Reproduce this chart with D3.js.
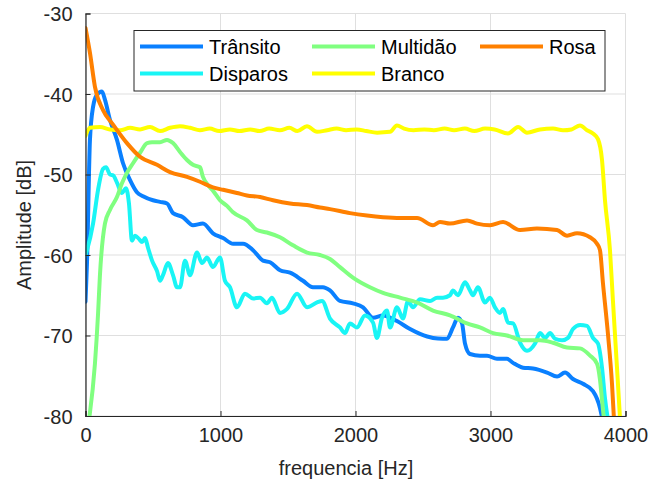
<!DOCTYPE html>
<html>
<head>
<meta charset="utf-8">
<script src="https://cdn.jsdelivr.net/npm/d3@7"></script>
<style>
  html, body { margin: 0; padding: 0; background: #fff; }
  svg { display: block; font-family: "Liberation Sans", Arial, sans-serif; }
</style>
</head>
<body>
<svg id="chart" width="662" height="483"></svg>
<script>
// Axis ticks
const xTicks = [0, 1000, 2000, 3000, 4000];
const yTicks = [-80, -70, -60, -50, -40, -30];

// Series: [frequency Hz, amplitude dB]
const transito = [[0,-65.8],[11,-61.0],[33,-45.7],[56,-41.6],[85,-40.1],[122,-39.7],[144,-40.7],[181,-43.2],[233,-45.7],[278,-48.6],[330,-50.7],[381,-52.2],[426,-52.7],[500,-53.2],[552,-53.4],[604,-53.6],[648,-54.8],[722,-55.3],[796,-56.3],[870,-56.1],[944,-57.3],[1019,-57.9],[1093,-58.6],[1167,-58.6],[1241,-59.4],[1315,-60.7],[1367,-60.9],[1441,-61.9],[1515,-62.2],[1611,-63.2],[1685,-64.0],[1759,-64.0],[1811,-64.4],[1885,-65.7],[1981,-66.0],[2056,-66.5],[2130,-67.8],[2204,-67.5],[2307,-68.2],[2404,-69.2],[2478,-69.8],[2574,-70.3],[2648,-70.4],[2678,-70.4],[2722,-69.0],[2759,-67.8],[2789,-68.5],[2811,-71.0],[2848,-72.3],[2922,-72.5],[2974,-72.5],[3048,-72.9],[3122,-72.9],[3167,-73.4],[3241,-74.0],[3315,-74.1],[3419,-74.6],[3493,-75.1],[3552,-74.6],[3611,-75.4],[3685,-76.0],[3759,-76.9],[3811,-79.0],[3830,-80.5]];

const disparos = [[0,-60.0],[11,-59.4],[56,-56.1],[93,-51.9],[130,-49.3],[152,-49.1],[181,-50.0],[204,-50.1],[233,-51.0],[270,-52.3],[300,-51.7],[322,-53.6],[344,-58.2],[367,-57.6],[396,-58.0],[419,-58.4],[441,-57.9],[463,-59.1],[493,-60.7],[530,-62.0],[552,-63.2],[574,-62.5],[611,-61.0],[648,-62.5],[678,-64.0],[700,-64.0],[737,-60.7],[774,-62.5],[826,-59.7],[863,-61.0],[900,-60.3],[944,-61.5],[996,-60.3],[1033,-63.2],[1070,-64.0],[1122,-66.5],[1181,-64.8],[1241,-65.4],[1293,-65.3],[1344,-66.0],[1381,-65.3],[1441,-67.2],[1493,-66.7],[1567,-64.8],[1641,-66.5],[1715,-65.9],[1752,-65.7],[1811,-67.9],[1885,-69.0],[1922,-69.7],[1959,-68.5],[2011,-69.0],[2070,-67.5],[2130,-68.4],[2159,-70.3],[2196,-67.8],[2233,-66.9],[2256,-69.0],[2307,-66.5],[2352,-67.9],[2389,-65.7],[2426,-66.5],[2478,-65.5],[2552,-65.7],[2604,-65.3],[2648,-65.3],[2700,-65.0],[2722,-64.4],[2759,-65.0],[2811,-63.4],[2848,-64.4],[2870,-65.0],[2907,-64.0],[2959,-65.9],[2996,-65.3],[3033,-66.5],[3070,-67.2],[3093,-66.7],[3130,-68.4],[3167,-68.5],[3219,-70.9],[3270,-71.9],[3330,-71.0],[3367,-69.7],[3404,-70.3],[3441,-69.7],[3478,-70.4],[3530,-70.6],[3574,-70.3],[3611,-69.2],[3663,-68.7],[3715,-68.8],[3759,-70.3],[3796,-71.0],[3826,-74.0],[3848,-77.8],[3870,-80.5]];

const multidao = [[26,-80.5],[70,-73.5],[93,-67.3],[107,-62.5],[144,-56.1],[181,-54.4],[233,-52.8],[270,-51.1],[307,-49.8],[352,-48.6],[404,-47.3],[456,-46.1],[493,-46.0],[552,-46.0],[604,-45.7],[648,-46.1],[700,-47.2],[752,-48.2],[796,-48.8],[848,-49.1],[870,-50.3],[922,-51.6],[944,-52.0],[996,-53.2],[1048,-53.9],[1093,-54.7],[1196,-55.7],[1270,-56.9],[1344,-57.2],[1441,-57.8],[1537,-58.8],[1641,-59.7],[1737,-60.0],[1811,-60.5],[1885,-61.5],[1981,-62.8],[2107,-64.0],[2204,-64.7],[2330,-65.3],[2456,-65.9],[2574,-66.9],[2700,-67.5],[2826,-68.5],[2922,-69.0],[3019,-69.7],[3122,-70.0],[3241,-70.6],[3367,-70.6],[3463,-70.9],[3567,-71.5],[3663,-71.6],[3737,-72.5],[3789,-73.5],[3811,-75.5],[3826,-78.0],[3841,-80.5]];

const branco = [[0,-45.2],[33,-44.2],[107,-44.1],[181,-44.4],[256,-44.5],[330,-44.2],[404,-44.4],[478,-44.1],[552,-44.6],[626,-44.2],[700,-44.0],[774,-44.2],[848,-44.5],[920,-44.3],[990,-44.6],[1070,-44.4],[1140,-44.6],[1220,-44.4],[1290,-44.6],[1360,-44.3],[1440,-44.5],[1510,-44.2],[1570,-44.6],[1640,-44.0],[1715,-44.7],[1790,-44.5],[1860,-44.3],[1930,-44.5],[2010,-44.4],[2080,-44.6],[2160,-44.8],[2256,-44.7],[2307,-43.9],[2360,-44.3],[2430,-44.5],[2510,-44.4],[2580,-44.5],[2660,-44.3],[2730,-44.5],[2810,-44.3],[2880,-44.6],[2960,-44.3],[3030,-44.4],[3130,-44.9],[3204,-44.1],[3270,-44.8],[3367,-44.4],[3463,-44.3],[3537,-44.5],[3600,-44.4],[3663,-43.9],[3715,-44.5],[3759,-44.9],[3796,-45.6],[3826,-48.2],[3848,-53.2],[3885,-59.4],[3907,-65.7],[3937,-74.0],[3960,-80.5]];

const rosa = [[0,-31.8],[33,-34.9],[70,-39.1],[130,-42.0],[204,-43.8],[307,-46.1],[404,-47.8],[530,-48.8],[626,-49.7],[752,-50.3],[848,-50.9],[944,-51.6],[1019,-51.9],[1122,-52.3],[1196,-52.6],[1293,-52.8],[1389,-53.2],[1515,-53.6],[1641,-53.8],[1737,-54.1],[1811,-54.3],[1959,-54.8],[2085,-55.1],[2204,-55.3],[2330,-55.4],[2456,-55.4],[2574,-56.3],[2626,-55.9],[2700,-56.1],[2826,-55.7],[2900,-56.1],[2996,-56.3],[3093,-55.9],[3219,-56.9],[3344,-56.7],[3493,-56.9],[3567,-57.6],[3641,-57.3],[3737,-57.8],[3789,-58.6],[3811,-59.4],[3833,-63.5],[3870,-69.8],[3900,-76.0],[3915,-80.5]];

// Draw order (later series sit on top) and legend labels
const seriesNames = ["Trânsito", "Disparos", "Multidão", "Branco", "Rosa"];
const seriesData = [transito, disparos, multidao, branco, rosa];
const seriesColors = ["#0a80ff", "#19f5f5", "#80ff80", "#ffff00", "#ff8000"];

const svg = d3.select("#chart");
const plotLeft = 85.5, plotRight = 625.5, plotTop = 13.5, plotBottom = 416;
const ink = "#262626";

const x = d3.scaleLinear().domain([0, 4000]).range([plotLeft, plotRight]);
const y = d3.scaleLinear().domain([-80, -30]).range([plotBottom, plotTop]);

// Grid
const grid = svg.append("g").attr("stroke", "#dfdfdf").attr("stroke-width", 1);
grid.selectAll(".gx").data(xTicks).join("line")
  .attr("x1", d => x(d)).attr("x2", d => x(d)).attr("y1", plotTop).attr("y2", plotBottom);
grid.selectAll(".gy").data(yTicks).join("line")
  .attr("x1", plotLeft).attr("x2", plotRight).attr("y1", d => y(d)).attr("y2", d => y(d));

// Clip lines to plot box
svg.append("clipPath").attr("id", "plotclip")
  .append("rect").attr("x", plotLeft).attr("y", plotTop)
  .attr("width", plotRight - plotLeft).attr("height", plotBottom - plotTop);

const line = d3.line()
  .x(d => x(d[0])).y(d => y(d[1]))
  .curve(d3.curveMonotoneX);

const lines = svg.append("g").attr("clip-path", "url(#plotclip)");
seriesData.forEach((s, i) => {
  lines.append("path")
    .datum(s)
    .attr("d", line)
    .attr("fill", "none")
    .attr("stroke", seriesColors[i])
    .attr("stroke-width", 4)
    .attr("stroke-linejoin", "round")
    .attr("stroke-linecap", "round");
});

// Axes: plain integer labels with ASCII minus
const plainFormat = d => String(d);
const xAxis = d3.axisBottom(x).tickValues(xTicks).tickFormat(plainFormat).tickSize(-5).tickPadding(12);
const yAxis = d3.axisLeft(y).tickValues(yTicks).tickFormat(plainFormat).tickSize(-5).tickPadding(13);

const gx = svg.append("g").attr("transform", `translate(0,${plotBottom})`).call(xAxis);
const gy = svg.append("g").attr("transform", `translate(${plotLeft},0)`).call(yAxis);
[gx, gy].forEach(g => {
  g.select(".domain").attr("stroke", ink).attr("stroke-width", 1.2);
  g.selectAll(".tick line").attr("stroke", ink);
  g.selectAll(".tick text").attr("fill", ink)
    .style("font-size", "20px").style("font-family", "'Liberation Sans', Arial, sans-serif");
});
gy.selectAll(".tick text").attr("dy", "0.36em");

// Axis titles
svg.append("text")
  .attr("x", 346).attr("y", 475)
  .attr("text-anchor", "middle").attr("fill", ink)
  .style("font-size", "20px")
  .text("frequencia [Hz]");
svg.append("text")
  .attr("transform", "translate(31,225) rotate(-90)")
  .attr("text-anchor", "middle").attr("fill", ink)
  .style("font-size", "20px")
  .text("Amplitude [dB]");

// Legend (column-major, three columns)
const legend = svg.append("g");
legend.append("rect")
  .attr("x", 134).attr("y", 30.5).attr("width", 471).attr("height", 60.5)
  .attr("fill", "#fff").attr("stroke", ink).attr("stroke-width", 1);
const colX = [140, 312, 480];
const rowY = [46.5, 73.5];
seriesNames.forEach((name, i) => {
  const c = Math.floor(i / 2), r = i % 2;
  const gI = legend.append("g").attr("transform", `translate(${colX[c]},${rowY[r]})`);
  gI.append("line").attr("x1", 0).attr("x2", 63).attr("y1", 0).attr("y2", 0)
    .attr("stroke", seriesColors[i]).attr("stroke-width", 4);
  gI.append("text").attr("x", 69).attr("y", 0).attr("dy", "0.36em")
    .attr("fill", "#000").style("font-size", "20px").text(name);
});
</script>
</body>
</html>
